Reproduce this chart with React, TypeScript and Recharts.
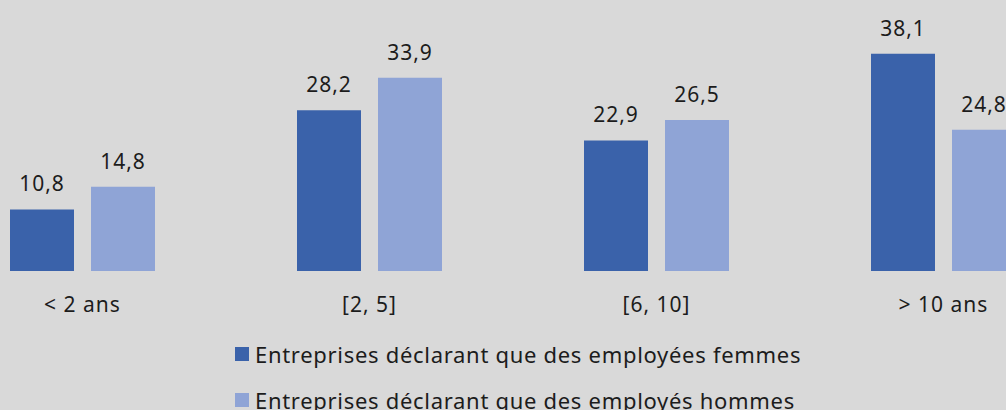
import React from 'react';
import { BarChart, Bar, XAxis, YAxis, Legend, LabelList } from 'recharts';

const categories = ['< 2 ans', '[2, 5]', '[6, 10]', '> 10 ans'];
const femmes = [10.8, 28.2, 22.9, 38.1];
const hommes = [14.8, 33.9, 26.5, 24.8];

const seriesNames = [
    'Entreprises déclarant que des employées femmes',
    'Entreprises déclarant que des employés hommes',
];

const DARK = '#3a62aa';
const LIGHT = '#8fa4d6';
const TEXT = '#1c1c1c';
const FONT = '"Noto Sans", sans-serif';

const chartData = categories.map((name, i) => ({
    name,
    femmes: femmes[i],
    hommes: hommes[i],
}));

const formatFr = (v: any) => Number(v).toFixed(1).replace('.', ',');

const renderLegend = (props: any) => {
    const { payload } = props;
    return (
        <div>
            {payload.map((entry: any) => (
                <div key={entry.value} style={{ display: 'flex', alignItems: 'center', height: 46 }}>
                    <span style={{ width: 14, height: 14, background: entry.color, marginRight: 6 }} />
                    <span style={{ color: TEXT, fontSize: 22, letterSpacing: 0.7, fontFamily: FONT, whiteSpace: 'nowrap' }}>
                        {entry.value}
                    </span>
                </div>
            ))}
        </div>
    );
};

const App: React.FC = () => {
    return (
        <div style={{ position: 'absolute', left: 0, top: 0, width: 1006, height: 410, overflow: 'hidden', background: '#d9d9d9' }}>
            <div style={{ position: 'absolute', left: -61, top: 0 }}>
                <BarChart
                    width={1148}
                    height={410}
                    data={chartData}
                    margin={{ top: 43, right: 0, left: 0, bottom: 109 }}
                    barSize={64}
                    barGap={17}
                    style={{ fontFamily: FONT }}
                >
                    <XAxis
                        dataKey="name"
                        axisLine={false}
                        tickLine={false}
                        tickSize={0}
                        tickMargin={26}
                        height={30}
                        tick={{ fill: TEXT, fontSize: 21, style: { letterSpacing: 1 } }}
                        interval={0}
                    />
                    <YAxis hide domain={[0, 40]} />
                    <Legend
                        layout="vertical"
                        align="center"
                        verticalAlign="middle"
                        content={renderLegend}
                        wrapperStyle={{ left: 296, top: 331, width: 'auto' }}
                    />
                    <Bar dataKey="femmes" name={seriesNames[0]} fill={DARK} isAnimationActive={false}>
                        <LabelList dataKey="femmes" position="top" offset={18} formatter={formatFr} fill={TEXT} fontSize={21} style={{ letterSpacing: 1 }} />
                    </Bar>
                    <Bar dataKey="hommes" name={seriesNames[1]} fill={LIGHT} isAnimationActive={false}>
                        <LabelList dataKey="hommes" position="top" offset={18} formatter={formatFr} fill={TEXT} fontSize={21} style={{ letterSpacing: 1 }} />
                    </Bar>
                </BarChart>
            </div>
        </div>
    );
};

export default App;
